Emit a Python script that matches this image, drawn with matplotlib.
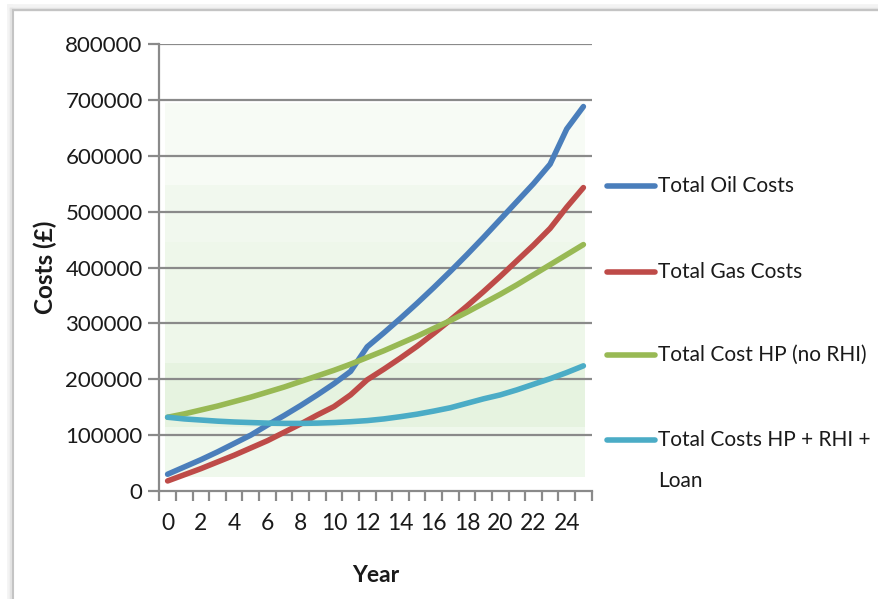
import matplotlib
matplotlib.use("Agg")
import matplotlib.pyplot as plt
from matplotlib.lines import Line2D
import numpy as np

plt.rcParams['font.family'] = ['Lato', 'DejaVu Sans']

years = list(range(26))
oil_costs = [30000, 43000, 56000, 70000, 85000, 100000, 118000, 135000, 153000, 172000,
             192000, 214000, 258000, 283000, 309000, 336000, 364000, 393000, 423000, 454000,
             486000, 518000, 550000, 585000, 648000, 688000]
gas_costs = [18000, 29000, 40000, 52000, 64000, 77000, 90000, 105000, 120000, 136000,
             151000, 172000, 199000, 218000, 238000, 259000, 282000, 306000, 331000, 357000,
             384000, 412000, 440000, 470000, 508000, 543000]
hp_no_rhi = [132000, 138000, 145000, 152000, 160000, 168000, 177000, 186000, 196000, 206000,
             216000, 227000, 239000, 251000, 264000, 277000, 291000, 305000, 320000, 336000,
             352000, 369000, 387000, 405000, 423000, 441000]
hp_rhi_loan = [132000, 129000, 127000, 125000, 123500, 122500, 121500, 121000, 121000, 121500,
               122500, 124000, 126000, 129000, 133000, 137500, 143000, 149000, 157000, 165000,
               172000, 181000, 191000, 201000, 212000, 224000]

series_labels = ["Total Oil Costs", "Total Gas Costs", "Total Cost HP (no RHI)",
                 "Total Costs HP + RHI +\nLoan"]
series_colors = ["#4A7EBB", "#BE4B48", "#98B954", "#4BACC6"]
y_ticks = [0, 100000, 200000, 300000, 400000, 500000, 600000, 700000, 800000]
x_tick_labels = [str(y) for y in range(0, 26, 2)]

W, H = 879, 599
fig = plt.figure(figsize=(W / 100, H / 100), dpi=100)
fig.patch.set_facecolor("white")

# plot area in pixel coordinates
ax_l, ax_r, ax_t, ax_b = 159.3, 591.7, 44.0, 491.0
ax = fig.add_axes([ax_l / W, 1 - ax_b / H, (ax_r - ax_l) / W, (ax_b - ax_t) / H])
ax.set_facecolor("white")

# soft green shading inside the plot area
bands = [(25000, 114000, "#eff8ec"), (114000, 229000, "#e6f3e0"),
         (229000, 445000, "#eef7ea"), (445000, 547000, "#f1f8ee"),
         (547000, 694000, "#f7fbf5")]
for lo, hi, c in bands:
    ax.axhspan(lo, hi, xmin=0.013, xmax=0.985, color=c, lw=0, zorder=0)

grid_color = "#8a8a8a"
for v in y_ticks[1:]:
    ax.axhline(v, color=grid_color, lw=1.6, zorder=1)

data = [oil_costs, gas_costs, hp_no_rhi, hp_rhi_loan]
for vals, c in zip(data, series_colors):
    ax.plot(years, vals, color=c, lw=4.0, solid_capstyle="round",
            solid_joinstyle="round", zorder=3)

ax.set_xlim(-0.5, 25.5)
ax.set_ylim(0, 800000)

for s in ["top", "right"]:
    ax.spines[s].set_visible(False)
for s in ["left", "bottom"]:
    ax.spines[s].set_color(grid_color)
    ax.spines[s].set_linewidth(1.6)

ax.set_yticks(y_ticks)
ax.set_yticklabels([str(v) for v in y_ticks])
ax.tick_params(axis="y", length=8, width=1.6, color=grid_color, pad=4,
               labelsize=16, labelcolor="#1a1a1a")

# category axis: tick marks between categories, labels every second year
ax.set_xticks(np.arange(-0.5, 26, 1.0))
ax.set_xticklabels([])
ax.tick_params(axis="x", length=7, width=1.6, color=grid_color)
for lab in x_tick_labels:
    ax.annotate(lab, xy=(int(lab), 0), xycoords=("data", "axes fraction"),
                xytext=(0, -33), textcoords="offset pixels",
                ha="center", va="center", fontsize=16.5, color="#1a1a1a")

fig.text(375.5 / W, 1 - 576 / H, "Year", ha="center", va="center",
         fontsize=16.5, fontweight="bold", color="#1a1a1a")
fig.text(45 / W, 1 - 267.5 / H, "Costs (£)", ha="center", va="center",
         rotation=90, fontsize=17.5, fontweight="bold", color="#1a1a1a")

# legend drawn to the right of the plot
leg_y = [186, 272, 355, 440]
for yy, lab, c in zip(leg_y, series_labels, series_colors):
    fig.add_artist(Line2D([607 / W, 655 / W], [1 - yy / H, 1 - yy / H],
                          transform=fig.transFigure, color=c, lw=4.0,
                          solid_capstyle="round"))
    fig.text(658 / W, 1 - (yy - 10) / H, lab, ha="left", va="top",
             fontsize=15, color="#1a1a1a", linespacing=2.3)

# page frame with soft shadow along the top and left edges
for off, col, lw in [(3, "#f3f3f3", 4), (1.5, "#e4e4e4", 2.5), (0, "#c4c4c4", 1.5)]:
    fig.add_artist(Line2D([(13 - off) / W, (13 - off) / W], [0, 1 - (10 - off) / H],
                          transform=fig.transFigure, color=col, lw=lw))
    fig.add_artist(Line2D([(13 - off) / W, 1], [1 - (10 - off) / H, 1 - (10 - off) / H],
                          transform=fig.transFigure, color=col, lw=lw))

fig.savefig("out.png", dpi=100)
